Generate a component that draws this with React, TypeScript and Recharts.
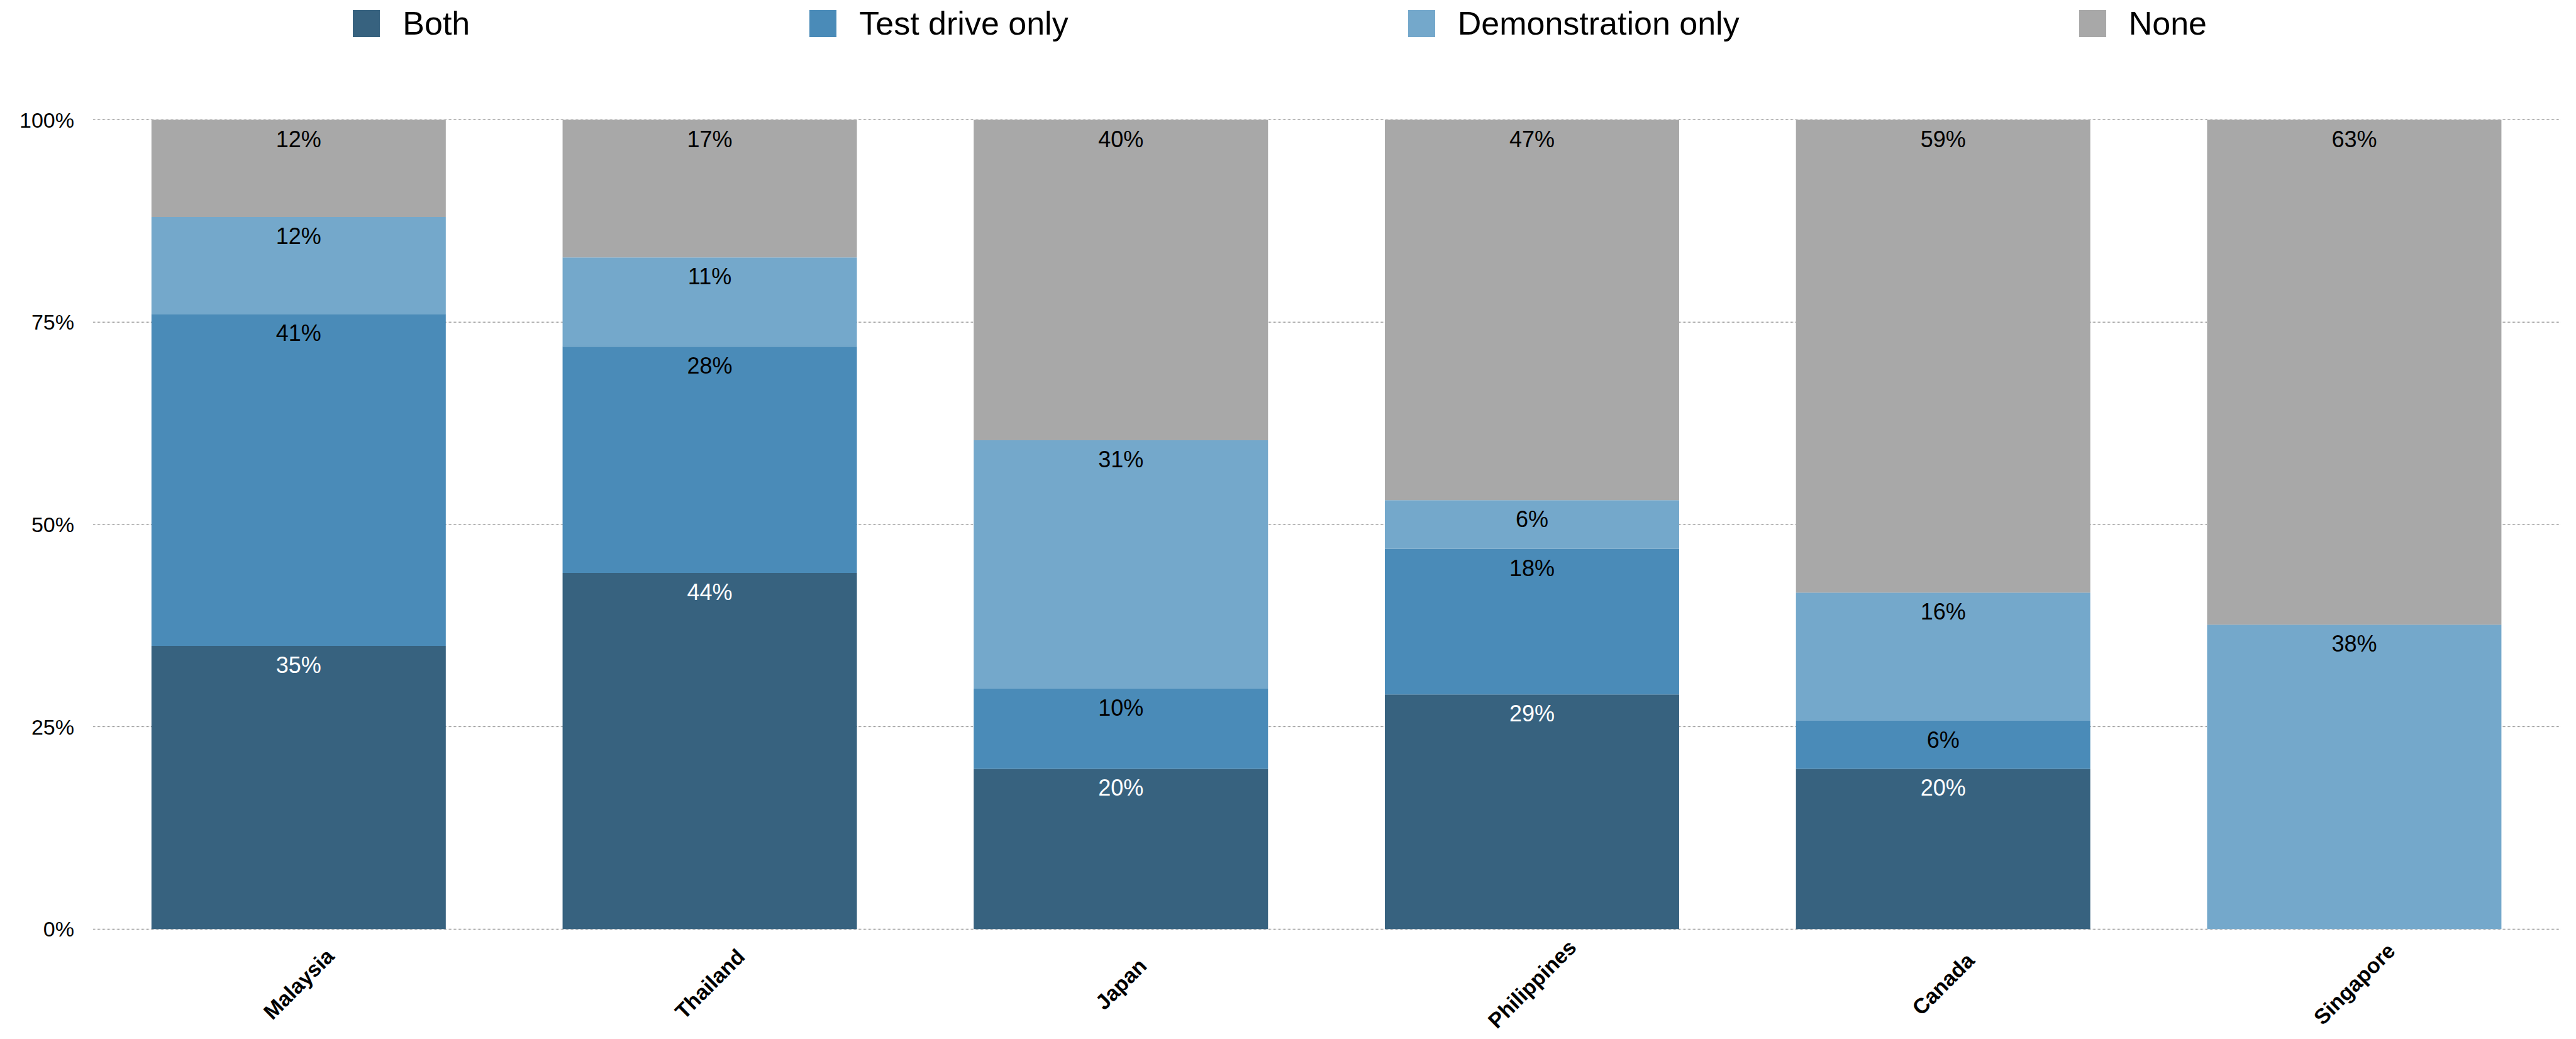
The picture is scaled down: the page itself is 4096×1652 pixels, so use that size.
import { BarChart, Bar, XAxis, YAxis, CartesianGrid, Legend, LabelList } from "recharts";

const COUNTRIES = ["Malaysia", "Thailand", "Japan", "Philippines", "Canada", "Singapore"];
const BOTH = [35, 44, 20, 29, 20, 0];
const TEST_DRIVE_ONLY = [41, 28, 10, 18, 6, 0];
const DEMONSTRATION_ONLY = [12, 11, 31, 6, 16, 38];
const NONE = [12, 17, 40, 47, 59, 63];
const Y_TICKS = [0, 0.25, 0.5, 0.75, 1];

const FONT = '"Liberation Sans", Arial, Helvetica, sans-serif';

// bottom-to-top stack order
const SERIES = [
  { key: "both", label: "Both", color: "#37627f", text: "#ffffff" },
  { key: "testDrive", label: "Test drive only", color: "#4a8bb8", text: "#000000" },
  { key: "demo", label: "Demonstration only", color: "#74a8cb", text: "#000000" },
  { key: "none", label: "None", color: "#a8a8a8", text: "#000000" },
];

const rows = COUNTRIES.map((country, i) => ({
  country,
  both: BOTH[i],
  testDrive: TEST_DRIVE_ONLY[i],
  demo: DEMONSTRATION_ONLY[i],
  none: NONE[i],
}));

function LegendRow() {
  return (
    <div
      style={{
        height: 60,
        boxSizing: "border-box",
        paddingTop: 15,
        display: "flex",
        justifyContent: "center",
        gap: 540,
        fontFamily: FONT,
      }}
    >
      {SERIES.map((s) => (
        <div key={s.key} style={{ display: "flex", alignItems: "center", height: 44 }}>
          <span style={{ width: 43, height: 43, background: s.color, marginRight: 36 }} />
          <span style={{ fontSize: 52, lineHeight: "44px", color: "#000" }}>{s.label}</span>
        </div>
      ))}
    </div>
  );
}

// percentage printed just under the top edge of each segment; empty segments get none
function segmentLabel(fill: string) {
  return (props: any) => {
    const { x, y, width, value } = props;
    if (!value) return null;
    return (
      <text
        x={Number(x) + Number(width) / 2}
        y={Number(y) + 43}
        textAnchor="middle"
        fill={fill}
        fontSize={36}
        fontFamily={FONT}
      >
        {value}%
      </text>
    );
  };
}

function CountryTick({ x, y, payload }: any) {
  const cy = Number(y) + 87;
  return (
    <text
      x={x}
      y={cy}
      transform={`rotate(-45 ${x} ${cy})`}
      textAnchor="middle"
      dominantBaseline="central"
      fontSize={34}
      fontWeight="bold"
      fontFamily={FONT}
      fill="#000"
    >
      {payload.value}
    </text>
  );
}

export default function App() {
  return (
    <div style={{ position: "absolute", left: 0, top: 0, width: 4096, height: 1652, background: "#fff" }}>
      <BarChart
        width={4096}
        height={1652}
        data={rows}
        stackOffset="expand"
        barCategoryGap="14.2%"
        margin={{ top: 130.5, right: 25.7, bottom: 0, left: 0 }}
      >
        <CartesianGrid vertical={false} stroke="#666" strokeDasharray="1 1" />
        <XAxis
          dataKey="country"
          axisLine={false}
          tickLine={false}
          tickSize={0}
          tickMargin={0}
          height={174.7}
          interval={0}
          tick={<CountryTick />}
        />
        <YAxis
          domain={[0, 1]}
          ticks={Y_TICKS}
          width={148}
          axisLine={false}
          tickLine={false}
          tickSize={0}
          tickMargin={30}
          tickFormatter={(v: number) => `${Math.round(v * 100)}%`}
          tick={{ fontSize: 34, fill: "#000", fontFamily: FONT }}
        />
        <Legend verticalAlign="top" wrapperStyle={{ top: 0 }} content={<LegendRow />} />
        {SERIES.map((s) => (
          <Bar key={s.key} dataKey={s.key} name={s.label} stackId="share" fill={s.color} isAnimationActive={false}>
            <LabelList dataKey={s.key} content={segmentLabel(s.text)} />
          </Bar>
        ))}
      </BarChart>
    </div>
  );
}
